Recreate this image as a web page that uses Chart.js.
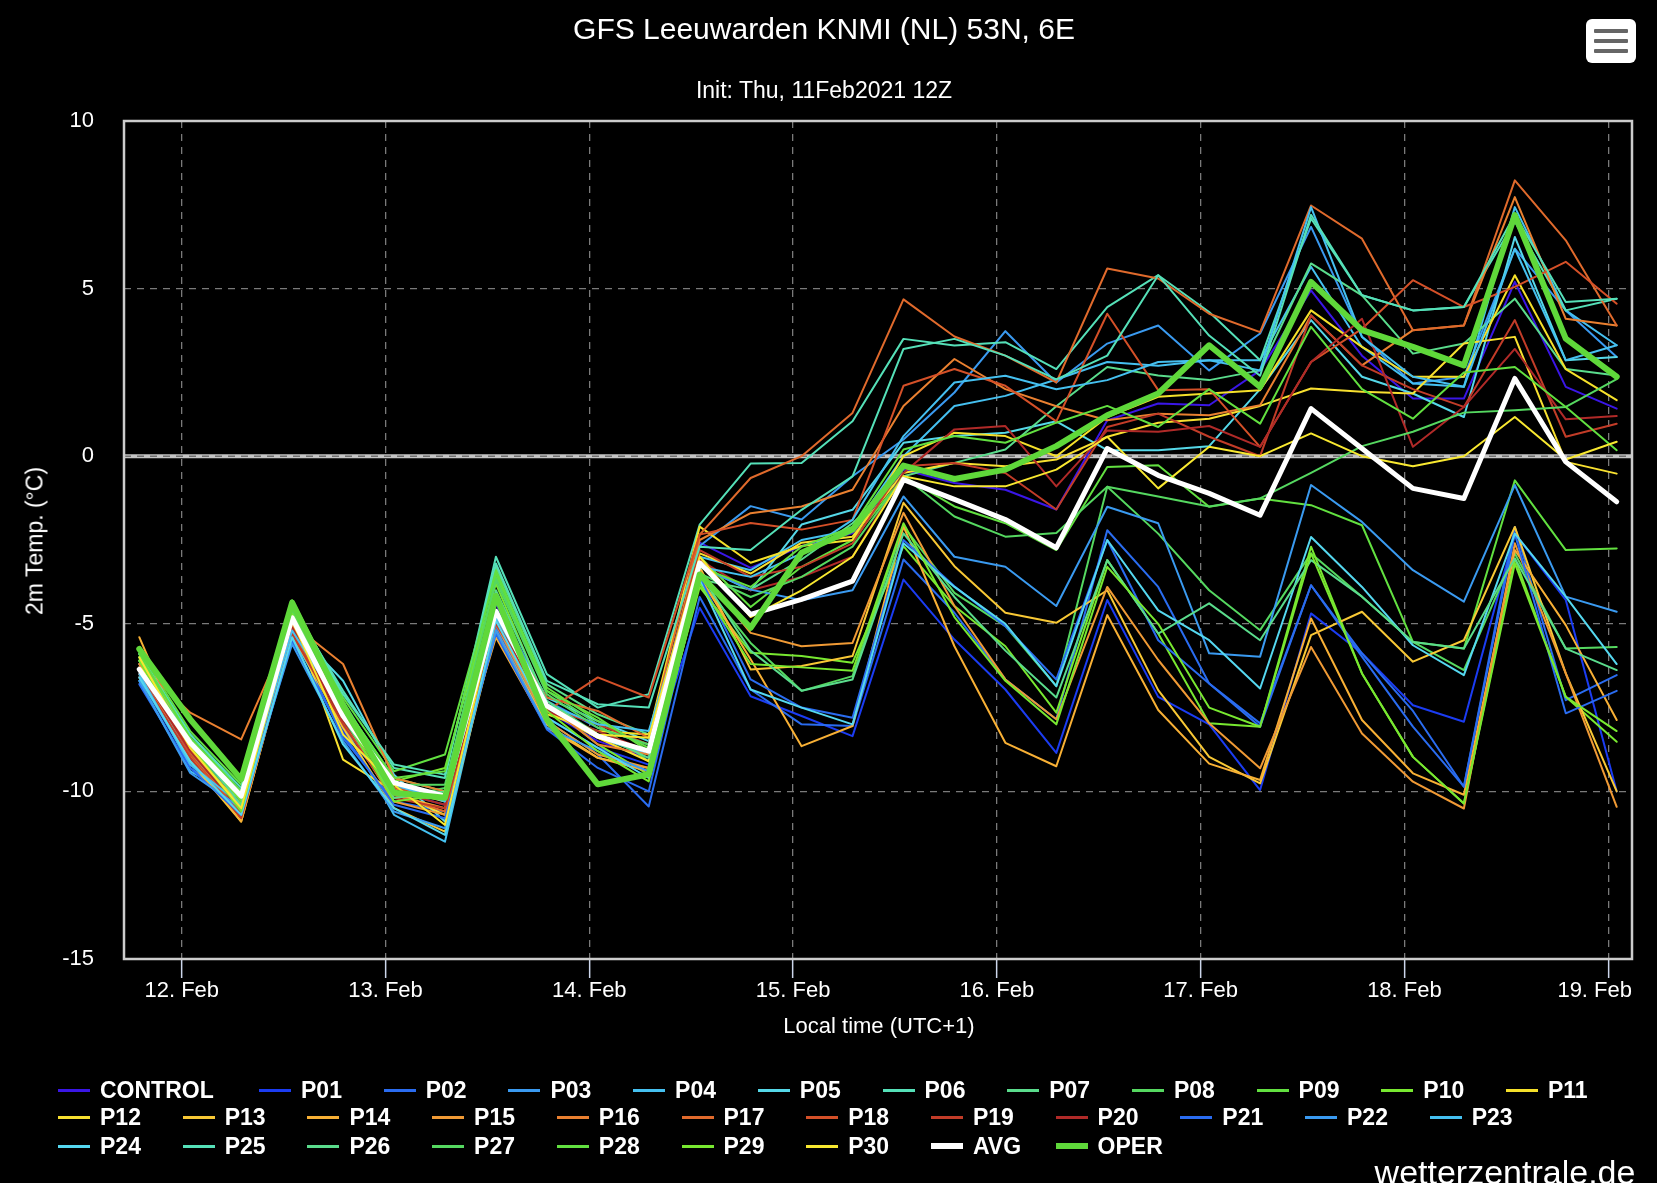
<!DOCTYPE html>
<html>
<head>
<meta charset="utf-8">
<title>GFS Leeuwarden ensemble</title>
<script src="https://cdn.jsdelivr.net/npm/chart.js@4.4.1/dist/chart.umd.min.js"></script>
<style>
  html, body { margin: 0; padding: 0; background: #000; }
  body { width: 1657px; height: 1183px; position: relative; overflow: hidden;
         font-family: "Liberation Sans", Arial, Helvetica, sans-serif; color: #fff; }
  #chart { position: absolute; left: 0; top: 0; }
  .txt { position: absolute; white-space: nowrap; line-height: 1; transform: translate(-50%, -50%); }
  .leg { position: absolute; height: 28px; display: flex; align-items: center; white-space: nowrap;
         font-weight: bold; font-size: 23px; transform: translateY(-50%); }
  .leg span.sym { display: inline-block; width: 32px; margin-right: 10px; }
  #menu { position: absolute; left: 1586px; top: 19px; width: 50px; height: 44px; background: #fff;
          border-radius: 6px; }
  #menu i { position: absolute; left: 8px; width: 34px; height: 4px; background: #666; border-radius: 1px; }
</style>
</head>
<body>
<canvas id="chart" width="1657" height="1183"></canvas>
<div class="txt" style="left:824px; top:29px; font-size:30px;">GFS Leeuwarden KNMI (NL) 53N, 6E</div>
<div class="txt" style="left:824px; top:90px; font-size:23px;">Init: Thu, 11Feb2021 12Z</div>
<div class="txt" style="left:35px; top:541px; font-size:23px; transform: translate(-50%, -50%) rotate(-90deg);">2m Temp. (°C)</div>
<div class="txt" style="left:879px; top:1026px; font-size:22px;">Local time (UTC+1)</div>
<div class="txt" style="left:1505px; top:1172px; font-size:34px;">wetterzentrale.de</div>
<div id="menu"><i style="top:10px"></i><i style="top:20px"></i><i style="top:30px"></i></div>
<div id="legend"></div>

<script>
// forecast steps, hours after 12 Feb 00:00 local time (UTC+1)
const stepHours = [-5, 1, 7, 13, 19, 25, 31, 37, 43, 49, 55, 61, 67, 73, 79, 85, 91, 97, 103, 109, 115, 121, 127, 133, 139, 145, 151, 157, 163, 169];
const dayTicks = [0, 24, 48, 72, 96, 120, 144, 168];
const dayLabels = ['12. Feb', '13. Feb', '14. Feb', '15. Feb', '16. Feb', '17. Feb', '18. Feb', '19. Feb'];
const tempTicks = [-15, -10, -5, 0, 5, 10];

// 2m temperature (°C) per member
const CONTROL = [-6.2, -8.7, -10.3, -4.9, -7.9, -9.8, -10.2, -4.4, -7.6, -8.5, -9.0, -2.58, -3.33, -2.68, -2.3, -0.4, -0.8, -1.0, -1.59, 1.07, 1.57, 1.52, 2.56, 4.95, 3.0, 1.72, 1.72, 5.2, 2.07, 1.42];
const P01 = [-6.5, -9.0, -10.5, -5.0, -8.2, -10.0, -10.4, -4.8, -7.8, -8.7, -9.2, -4.52, -7.16, -7.75, -8.35, -3.68, -5.47, -6.96, -8.85, -4.29, -7.18, -8.0, -9.96, -4.69, -5.88, -7.43, -7.92, -2.31, -4.29, -10.0];
const P02 = [-6.6, -9.2, -10.6, -5.2, -8.4, -10.3, -10.6, -5.1, -7.9, -8.9, -10.45, -4.2, -6.96, -8.0, -8.05, -3.08, -4.67, -6.66, -7.85, -2.21, -3.9, -6.78, -7.97, -3.85, -5.88, -7.6, -9.86, -2.11, -7.28, -6.53];
const P03 = [-6.3, -9.3, -10.4, -4.7, -7.6, -9.9, -10.1, -4.3, -7.3, -8.1, -8.6, -2.68, -1.49, -1.89, -0.6, 0.5, 1.9, 3.73, 2.2, 3.36, 3.9, 2.56, 3.66, 6.84, 3.56, 2.17, 2.37, 6.19, 4.35, 2.96];
const P04 = [-6.7, -9.4, -10.2, -5.4, -8.0, -10.7, -11.5, -4.9, -7.5, -8.4, -8.9, -3.0, -3.4, -2.5, -2.2, 0.0, 1.5, 1.8, 2.29, 2.81, 2.7, 2.86, 2.86, 5.65, 3.26, 2.17, 2.07, 7.43, 4.35, 3.31];
const P05 = [-6.4, -8.9, -10.6, -5.1, -6.7, -9.5, -10.9, -4.6, -7.2, -7.9, -8.5, -3.28, -4.0, -2.04, -1.6, 0.4, 0.6, 0.7, 1.04, 0.18, 0.18, 0.3, 2.0, 4.06, 2.37, 1.87, 1.17, 6.54, 2.86, 2.96];
const P06 = [-5.9, -8.3, -10.0, -4.5, -7.0, -9.3, -9.6, -3.0, -6.5, -7.5, -7.1, -2.04, -0.22, -0.2, 1.04, 3.5, 3.3, 3.4, 2.6, 4.45, 5.4, 4.3, 2.86, 7.09, 4.8, 4.35, 4.45, 7.0, 4.35, 4.7];
const P07 = [-6.0, -8.4, -10.1, -4.4, -7.4, -9.6, -10.0, -3.3, -6.8, -7.7, -8.3, -3.68, -3.98, -3.08, -2.0, -0.6, -0.2, 0.2, 1.49, 2.66, 2.41, 2.27, 2.56, 5.75, 4.8, 3.06, 3.36, 4.7, 2.6, 2.41];
const P08 = [-6.1, -8.6, -10.5, -4.6, -7.7, -10.2, -9.9, -3.6, -7.0, -8.0, -9.1, -3.68, -5.57, -7.0, -6.56, -2.09, -4.08, -5.07, -6.86, -0.91, -2.31, -4.0, -5.19, -2.9, -4.19, -5.54, -6.38, -2.9, -5.74, -5.69];
const P09 = [-5.8, -8.2, -9.8, -4.3, -7.2, -9.4, -8.9, -3.5, -6.9, -7.9, -8.7, -3.0, -4.5, -3.3, -2.5, -0.6, -1.5, -2.0, -2.8, -0.32, -0.27, -1.51, -1.26, -1.46, -2.06, -5.54, -5.74, -0.72, -2.8, -2.75];
const P10 = [-6.0, -8.5, -10.3, -4.5, -7.5, -9.7, -9.3, -3.8, -7.4, -8.6, -9.5, -3.9, -5.86, -5.96, -6.16, -2.68, -4.47, -5.67, -7.65, -3.1, -5.29, -7.97, -8.07, -2.7, -6.48, -8.97, -10.36, -3.05, -7.18, -8.52];
const P11 = [-6.3, -8.8, -10.4, -5.0, -7.9, -9.9, -10.3, -4.7, -7.7, -8.2, -8.3, -2.1, -3.18, -2.68, -2.5, 0.0, 0.7, 0.6, 0.0, 1.17, 1.77, 1.87, 1.97, 4.35, 3.26, 2.37, 2.37, 5.4, 2.6, 1.67];
const P12 = [-6.2, -8.8, -10.6, -4.8, -9.05, -10.0, -10.7, -5.0, -7.6, -8.4, -9.1, -2.9, -3.5, -2.58, -2.4, -0.5, -0.2, -0.3, -0.1, 0.58, 1.0, 1.12, 1.5, 2.02, 1.92, 1.87, 3.36, 3.56, -0.17, -0.52];
const P13 = [-6.5, -9.1, -10.9, -5.3, -8.1, -10.5, -11.2, -5.2, -8.0, -9.0, -9.3, -3.3, -6.36, -6.26, -5.96, -1.39, -3.28, -4.67, -4.97, -4.0, -6.98, -8.97, -9.76, -5.34, -4.64, -6.13, -5.49, -2.11, -6.48, -10.0];
const P14 = [-5.4, -8.9, -10.9, -5.3, -7.7, -10.1, -10.5, -5.4, -8.1, -9.0, -9.4, -3.6, -6.06, -8.65, -8.05, -2.09, -5.67, -8.55, -9.25, -4.74, -7.57, -9.17, -9.66, -4.84, -7.87, -9.46, -10.1, -2.8, -5.04, -7.87];
const P15 = [-6.6, -8.7, -10.8, -5.0, -7.9, -10.3, -10.7, -5.0, -7.9, -8.9, -9.3, -3.4, -5.27, -5.67, -5.57, -1.69, -4.47, -6.66, -7.85, -3.9, -6.08, -7.97, -9.31, -5.69, -8.27, -9.71, -10.51, -2.6, -6.48, -10.46];
const P16 = [-6.2, -7.65, -8.45, -5.0, -6.2, -9.6, -10.0, -4.7, -7.4, -8.6, -8.9, -2.5, -1.7, -1.5, -1.0, 1.5, 2.9, 2.0, 1.49, 1.07, 1.27, 1.22, 1.52, 4.2, 2.71, 3.76, 3.9, 7.73, 4.1, 3.9];
const P17 = [-6.4, -8.7, -10.5, -5.2, -7.3, -10.1, -10.6, -4.9, -7.2, -7.6, -8.4, -2.34, -0.65, 0.0, 1.29, 4.68, 3.57, 3.0, 2.2, 5.6, 5.3, 4.25, 3.7, 7.48, 6.49, 3.76, 3.9, 8.23, 6.44, 3.9];
const P18 = [-6.3, -8.9, -10.7, -5.3, -7.8, -9.9, -10.2, -4.8, -7.6, -6.6, -7.2, -2.34, -1.99, -2.19, -1.9, 2.1, 2.6, 2.1, 1.04, 4.25, 1.97, 2.0, 0.28, 2.81, 3.8, 5.25, 4.45, 5.05, 5.8, 4.55];
const P19 = [-6.5, -9.0, -10.8, -5.3, -8.0, -10.2, -10.5, -5.0, -7.5, -8.0, -8.6, -2.8, -3.6, -3.3, -2.6, -0.3, -0.2, -0.5, -1.59, 0.87, 1.27, 0.58, 0.0, 4.2, 2.71, 2.0, 1.47, 4.06, 0.58, 0.97];
const P20 = [-6.4, -8.8, -10.6, -5.1, -7.9, -10.0, -10.4, -4.9, -7.6, -8.2, -8.8, -3.1, -4.0, -3.6, -3.0, -0.5, 0.8, 0.9, -0.9, 0.77, 0.73, 0.9, 0.28, 2.81, 4.1, 0.28, 1.47, 3.2, 1.1, 1.2];
const P21 = [-6.8, -9.3, -10.7, -5.5, -8.3, -10.4, -10.8, -5.3, -8.15, -9.3, -10.0, -3.6, -6.66, -7.5, -7.8, -2.5, -3.88, -5.07, -6.66, -2.5, -5.49, -6.78, -8.07, -3.85, -5.98, -8.07, -9.86, -2.31, -7.67, -7.0];
const P22 = [-6.7, -9.45, -10.5, -5.6, -8.5, -10.6, -11.1, -5.2, -8.1, -8.8, -9.4, -3.3, -3.98, -4.3, -4.0, -1.2, -3.0, -3.3, -4.47, -1.51, -2.0, -5.88, -5.98, -0.86, -1.96, -3.4, -4.34, -0.86, -4.19, -4.64];
const P23 = [-6.5, -9.2, -10.4, -5.2, -7.6, -9.8, -10.3, -4.8, -7.4, -8.0, -8.2, -3.3, -3.6, -2.9, -1.9, 0.6, 2.2, 2.4, 2.0, 2.27, 2.81, 2.86, 2.56, 7.43, 3.56, 2.37, 2.07, 6.19, 2.86, 3.31];
const P24 = [-6.6, -9.1, -10.7, -5.4, -8.6, -10.5, -11.3, -4.9, -7.8, -8.7, -9.6, -3.7, -6.96, -7.5, -8.0, -2.6, -3.9, -5.0, -6.86, -2.5, -4.6, -5.49, -6.93, -2.41, -3.9, -5.64, -6.53, -2.31, -4.19, -6.2];
const P25 = [-5.9, -8.3, -9.9, -4.4, -7.1, -9.2, -9.5, -3.2, -6.7, -7.4, -7.5, -2.7, -2.8, -1.6, -0.6, 3.2, 3.5, 3.0, 2.29, 3.0, 5.4, 3.6, 2.4, 7.2, 4.8, 4.35, 4.45, 7.2, 4.6, 4.7];
const P26 = [-6.1, -8.5, -10.4, -4.6, -7.8, -10.2, -10.0, -4.0, -7.3, -8.3, -9.0, -3.5, -5.8, -7.0, -6.66, -2.3, -4.2, -5.8, -7.2, -3.1, -5.29, -4.39, -5.49, -3.1, -4.19, -5.54, -5.74, -3.05, -5.74, -6.38];
const P27 = [-6.0, -8.6, -10.2, -4.6, -7.3, -9.8, -9.8, -3.7, -7.1, -8.1, -8.6, -3.5, -4.2, -3.6, -2.7, -0.6, -1.8, -2.4, -2.29, -0.91, -1.2, -1.5, -1.26, -0.5, 0.3, 0.73, 1.3, 1.37, 1.47, 2.3];
const P28 = [-5.9, -8.4, -10.0, -4.4, -7.4, -9.6, -9.4, -3.4, -7.0, -7.8, -8.8, -3.3, -3.9, -2.7, -2.1, 0.2, 0.6, 0.4, 1.0, 1.5, 0.87, 2.0, 0.97, 3.86, 2.0, 1.12, 2.5, 2.66, 1.47, 0.18];
const P29 = [-6.1, -8.6, -10.6, -4.7, -7.7, -10.3, -10.1, -4.2, -7.6, -8.8, -9.7, -3.8, -6.2, -6.3, -6.4, -2.0, -4.8, -6.7, -8.0, -3.3, -5.0, -7.5, -8.07, -2.9, -6.48, -8.97, -10.36, -3.2, -7.18, -8.2];
const P30 = [-6.0, -8.7, -10.5, -4.9, -8.3, -9.8, -11.0, -4.6, -7.4, -8.3, -8.4, -3.0, -4.8, -4.0, -3.0, -0.6, -0.9, -0.9, -0.4, 0.58, -0.96, 0.28, 0.0, 0.68, 0.0, -0.3, 0.0, 1.17, -0.1, 0.43];
const AVG = [-6.36, -8.55, -10.14, -4.82, -7.75, -9.74, -10.14, -4.62, -7.45, -8.35, -8.8, -3.18, -4.72, -4.27, -3.73, -0.7, -1.29, -1.89, -2.73, 0.23, -0.57, -1.11, -1.76, 1.42, 0.23, -0.96, -1.26, 2.32, -0.17, -1.36];
const OPER = [-5.75, -7.85, -9.64, -4.37, -7.45, -10.04, -10.19, -4.17, -7.85, -9.79, -9.49, -3.53, -5.12, -2.88, -2.19, -0.28, -0.68, -0.4, 0.3, 1.22, 1.87, 3.31, 2.07, 5.2, 3.76, 3.26, 2.71, 7.19, 3.51, 2.37];

const seriesNames = ['CONTROL', 'P01', 'P02', 'P03', 'P04', 'P05', 'P06', 'P07', 'P08', 'P09', 'P10', 'P11',
  'P12', 'P13', 'P14', 'P15', 'P16', 'P17', 'P18', 'P19', 'P20', 'P21', 'P22', 'P23',
  'P24', 'P25', 'P26', 'P27', 'P28', 'P29', 'P30', 'AVG', 'OPER'];
const seriesValues = [CONTROL, P01, P02, P03, P04, P05, P06, P07, P08, P09, P10, P11,
  P12, P13, P14, P15, P16, P17, P18, P19, P20, P21, P22, P23,
  P24, P25, P26, P27, P28, P29, P30, AVG, OPER];

const colors = ['#3a16e6', '#1b3cf2', '#2a6cf0', '#3a9af0', '#45c0f0', '#55d8e8', '#55e0b8', '#5adc8c', '#55d860', '#62e040', '#78e830', '#f5e02a',
  '#f8e030', '#f8c835', '#f8b035', '#f09a35', '#ea8030', '#e06a2c', '#d45028', '#c23c28', '#b02a28', '#2a6cf0', '#3a9af0', '#45c0f0',
  '#55d8f0', '#55e0b8', '#5adc8c', '#55d860', '#62e040', '#78e830', '#f8e830', '#ffffff', '#5fd83a'];

const FONT = '"Liberation Sans", Arial, Helvetica, sans-serif';

const datasets = seriesNames.map((name, k) => {
  const isAvg = name === 'AVG', isOper = name === 'OPER';
  return {
    label: name,
    data: stepHours.map((h, i) => ({ x: h, y: seriesValues[k][i] })),
    borderColor: colors[k],
    borderWidth: isOper ? 6 : (isAvg ? 5 : 2),
    order: isOper ? 0 : (isAvg ? 1 : 100 - k),
    pointRadius: 0,
    fill: false
  };
});

// zero line and plot frame
const framePlugin = {
  id: 'frame',
  beforeDatasetsDraw(chart) {
    const { ctx, chartArea: a, scales } = chart;
    const y0 = scales.y.getPixelForValue(0);
    ctx.save();
    ctx.strokeStyle = '#c4c4c4';
    ctx.lineWidth = 4;
    ctx.beginPath(); ctx.moveTo(a.left, y0); ctx.lineTo(a.right, y0); ctx.stroke();
    ctx.strokeStyle = '#707070';
    ctx.lineWidth = 1.5;
    ctx.setLineDash([7, 6]);
    ctx.beginPath(); ctx.moveTo(a.left, y0); ctx.lineTo(a.right, y0); ctx.stroke();
    ctx.setLineDash([]);
    ctx.strokeStyle = '#cccccc';
    ctx.lineWidth = 2.5;
    ctx.strokeRect(a.left, a.top, a.right - a.left, a.bottom - a.top);
    ctx.restore();
  },
  // day labels under the x axis, last one kept inside the plot width
  afterDraw(chart) {
    const { ctx, chartArea: a, scales } = chart;
    ctx.save();
    ctx.font = '22px ' + FONT;
    ctx.fillStyle = '#fff';
    ctx.textAlign = 'center';
    ctx.textBaseline = 'alphabetic';
    dayTicks.forEach((v, i) => {
      const w = ctx.measureText(dayLabels[i]).width;
      let x = scales.x.getPixelForValue(v);
      if (x + w / 2 > a.right) x = a.right - w / 2;
      if (x - w / 2 < a.left) x = a.left + w / 2;
      ctx.fillText(dayLabels[i], x, a.bottom + 38);
    });
    ctx.restore();
  }
};

new Chart(document.getElementById('chart'), {
  type: 'line',
  data: { datasets },
  options: {
    responsive: false,
    animation: false,
    devicePixelRatio: 1,
    layout: { padding: { left: 0, right: 25, top: 121, bottom: 0 } },
    plugins: { legend: { display: false }, tooltip: { enabled: false }, title: { display: false } },
    elements: { line: { tension: 0, borderJoinStyle: 'round', borderCapStyle: 'round' } },
    scales: {
      x: {
        type: 'linear', min: -6.8, max: 170.8,
        afterBuildTicks: s => { s.ticks = dayTicks.map(v => ({ value: v })); },
        afterFit: s => { s.height = 224; },
        ticks: { display: false },
        grid: { color: '#7a7a7a', lineWidth: 1.3, drawTicks: true, tickLength: 19, tickColor: '#ccd6eb', tickWidth: 1.5 },
        border: { display: false, dash: [7, 6] }
      },
      y: {
        min: -15, max: 10,
        afterBuildTicks: s => { s.ticks = tempTicks.map(v => ({ value: v })); },
        afterFit: s => { s.width = 124; },
        ticks: { color: '#fff', font: { size: 22, family: FONT }, padding: 30 },
        grid: { color: '#7a7a7a', lineWidth: 1.3, drawTicks: false },
        border: { display: false, dash: [7, 6] }
      }
    }
  },
  plugins: [framePlugin]
});

// legend
const legend = document.getElementById('legend');
const rows = [[0, 12], [12, 24], [24, 33]];
const rowY = [1090, 1117.5, 1146];
rows.forEach(([from, to], r) => {
  for (let k = from; k < to; k++) {
    const col = k - from;
    let x = 58 + col * 124.7;
    if (r === 0 && col > 0) x = 259 + (col - 1) * 124.7;
    const name = seriesNames[k];
    const thick = name === 'AVG' || name === 'OPER';
    const el = document.createElement('div');
    el.className = 'leg';
    el.style.left = x + 'px';
    el.style.top = rowY[r] + 'px';
    const sym = document.createElement('span');
    sym.className = 'sym';
    sym.style.height = thick ? '6px' : '3px';
    sym.style.background = colors[k];
    el.appendChild(sym);
    el.appendChild(document.createTextNode(name));
    legend.appendChild(el);
  }
});
</script>
</body>
</html>
